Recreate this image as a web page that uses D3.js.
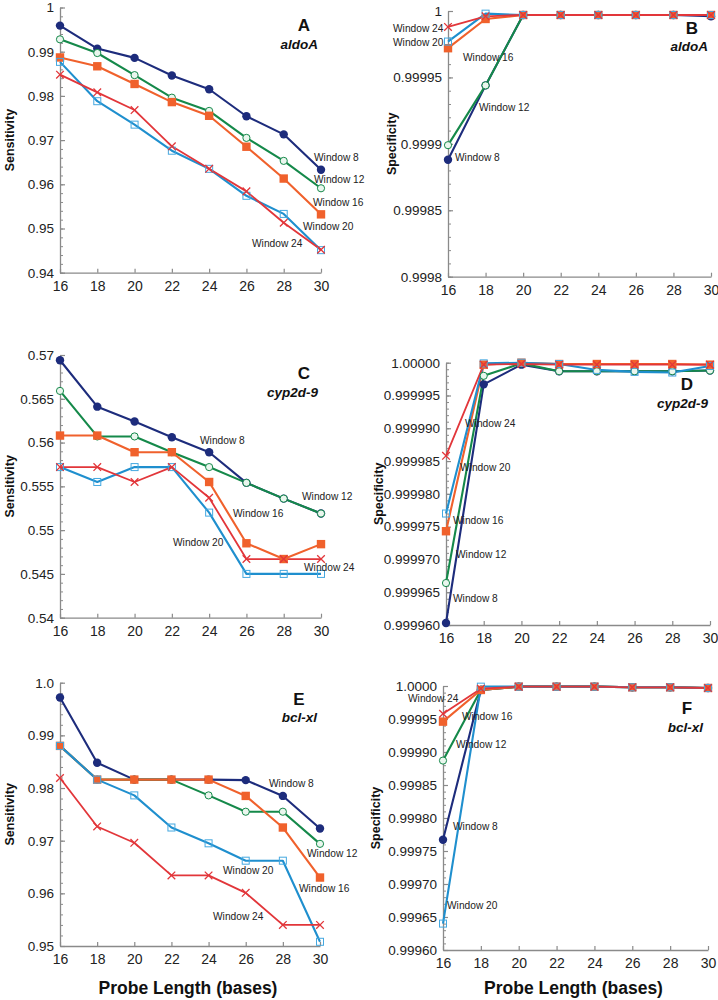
<!DOCTYPE html>
<html><head><meta charset="utf-8">
<script src="https://cdn.jsdelivr.net/npm/d3@7"></script>
<style>
body{margin:0;background:#fff;}
svg{display:block;font-family:"Liberation Sans",Arial,Helvetica,sans-serif;}
</style></head>
<body><svg id="chart" width="718" height="1000"></svg>
<script>
// ---------- data ----------
const probeLengths = [16, 18, 20, 22, 24, 26, 28, 30];
const windows = ["Window 8", "Window 12", "Window 16", "Window 20", "Window 24"];

const A_w8  = [0.9959, 0.9907, 0.9886, 0.9846, 0.9815, 0.9754, 0.9713, 0.9633];
const A_w12 = [0.9928, 0.9897, 0.9847, 0.9796, 0.9766, 0.9705, 0.9653, 0.9591];
const A_w16 = [0.9887, 0.9867, 0.9827, 0.9786, 0.9755, 0.9685, 0.9613, 0.9532];
const A_w20 = [0.9877, 0.9788, 0.9735, 0.9676, 0.9635, 0.9574, 0.9533, 0.9451];
const A_w24 = [0.9848, 0.9808, 0.9768, 0.9686, 0.9635, 0.9584, 0.9513, 0.9452];

const B_w8  = [0.999888, 0.999944, 0.999997, 0.999997, 0.999997, 0.999997, 0.999997, 0.999996];
const B_w12 = [0.999899, 0.999944, 0.999997, 0.999997, 0.999997, 0.999997, 0.999997, 0.999997];
const B_w16 = [0.999972, 0.999994, 0.999997, 0.999997, 0.999997, 0.999997, 0.999997, 0.999997];
const B_w20 = [0.999977, 0.999998, 0.999997, 0.999997, 0.999997, 0.999997, 0.999997, 0.999997];
const B_w24 = [0.999988, 0.999996, 0.999997, 0.999997, 0.999997, 0.999997, 0.999997, 0.999997];

const C_w8  = [0.5694, 0.5641, 0.5624, 0.5606, 0.5589, 0.5554, 0.5536, 0.5519];
const C_w12 = [0.5659, 0.5607, 0.5607, 0.5589, 0.5572, 0.5554, 0.5536, 0.5519];
const C_w16 = [0.5608, 0.5608, 0.5589, 0.5589, 0.5555, 0.5485, 0.5467, 0.5484];
const C_w20 = [0.5572, 0.5555, 0.5572, 0.5572, 0.5520, 0.5450, 0.5450, 0.5450];
const C_w24 = [0.5572, 0.5572, 0.5555, 0.5572, 0.5537, 0.5467, 0.5467, 0.5467];

const D_w8  = [0.9999603, 0.9999967, 0.9999997, 0.9999987, 0.9999987, 0.9999987, 0.9999987, 0.9999988];
const D_w12 = [0.9999664, 0.9999980, 0.9999999, 0.9999987, 0.9999987, 0.9999987, 0.9999987, 0.9999988];
const D_w16 = [0.9999743, 0.9999997, 1.0000000, 0.9999998, 0.9999998, 0.9999998, 0.9999998, 0.9999997];
const D_w20 = [0.9999770, 0.9999999, 1.0000000, 0.9999998, 0.9999989, 0.9999986, 0.9999985, 0.9999995];
const D_w24 = [0.9999858, 0.9999997, 0.9999998, 0.9999997, 0.9999997, 0.9999997, 0.9999997, 0.9999997];

const E_w8  = [0.9972, 0.9848, 0.9816, 0.9816, 0.9816, 0.9815, 0.9785, 0.9723];
const E_w12 = [0.9880, 0.9816, 0.9816, 0.9816, 0.9786, 0.9755, 0.9755, 0.9694];
const E_w16 = [0.9880, 0.9816, 0.9816, 0.9816, 0.9816, 0.9785, 0.9725, 0.9630];
const E_w20 = [0.9880, 0.9816, 0.9786, 0.9725, 0.9695, 0.9662, 0.9662, 0.9508];
const E_w24 = [0.9819, 0.9727, 0.9696, 0.9634, 0.9634, 0.9601, 0.9540, 0.9540];

const F_w8  = [0.999767, 0.999994, 0.999999, 0.999999, 0.999999, 0.999998, 0.999998, 0.999997];
const F_w12 = [0.999887, 0.999994, 0.999999, 0.999999, 0.999999, 0.999998, 0.999998, 0.999997];
const F_w16 = [0.999946, 0.999994, 0.999999, 0.999999, 0.999999, 0.999998, 0.999998, 0.999997];
const F_w20 = [0.999640, 0.999999, 0.999999, 0.999999, 0.999999, 0.999998, 0.999998, 0.999997];
const F_w24 = [0.999958, 0.999996, 0.999999, 0.999999, 0.999999, 0.999998, 0.999998, 0.999997];

const A_ticks = [1, 0.99, 0.98, 0.97, 0.96, 0.95, 0.94];
const A_tickLabels = ["1", "0.99", "0.98", "0.97", "0.96", "0.95", "0.94"];
const B_ticks = [1, 0.99995, 0.9999, 0.99985, 0.9998];
const B_tickLabels = ["1", "0.99995", "0.9999", "0.99985", "0.9998"];
const C_ticks = [0.57, 0.565, 0.56, 0.555, 0.55, 0.545, 0.54];
const C_tickLabels = ["0.57", "0.565", "0.56", "0.555", "0.55", "0.545", "0.54"];
const D_ticks = [1.0, 0.999995, 0.99999, 0.999985, 0.99998, 0.999975, 0.99997, 0.999965, 0.99996];
const D_tickLabels = ["1.00000", "0.999995", "0.999990", "0.999985", "0.999980", "0.999975", "0.999970", "0.999965", "0.999960"];
const E_ticks = [1.0, 0.99, 0.98, 0.97, 0.96, 0.95];
const E_tickLabels = ["1.0", "0.99", "0.98", "0.97", "0.96", "0.95"];
const F_ticks = [1.0, 0.99995, 0.9999, 0.99985, 0.9998, 0.99975, 0.9997, 0.99965, 0.9996];
const F_tickLabels = ["1.0000", "0.99995", "0.99990", "0.99985", "0.99980", "0.99975", "0.99970", "0.99965", "0.99960"];

// ---------- styles / layout ----------
const colors = ["#1d2c7c", "#15894a", "#f0612c", "#1f8fce", "#e2363a"];
const markers = ["dot", "ring", "square", "box", "cross"];
const drawOrder = [0, 1, 2, 3, 4];

const panels = [
  {letter:"A", gene:"aldoA", yTitle:"Sensitivity", series:[A_w8,A_w12,A_w16,A_w20,A_w24], ticks:A_ticks, tl:A_tickLabels,
   x0:60, x1:321, yTop:7.5, yBot:272.7, minor:0.002, titleX:9, letterPos:[304,31], genePos:[318,49],
   labels:[[314,161],[314,183],[313,206],[303,230],[252,247]], xTitle:false},
  {letter:"B", gene:"aldoA", yTitle:"Specificity", series:[B_w8,B_w12,B_w16,B_w20,B_w24], ticks:B_ticks, tl:B_tickLabels,
   x0:448, x1:711, yTop:11, yBot:276.7, minor:0.00001, titleX:391, letterPos:[692,34], genePos:[708,51],
   labels:[[455,161],[479,111],[463,61],[393,46],[393,32]], xTitle:false},
  {letter:"C", gene:"cyp2d-9", yTitle:"Sensitivity", series:[C_w8,C_w12,C_w16,C_w20,C_w24], ticks:C_ticks, tl:C_tickLabels,
   x0:60, x1:321, yTop:355, yBot:617.7, minor:0.001, titleX:9, letterPos:[304,379], genePos:[318,397],
   labels:[[200,444],[302,500],[233,517],[173,546],[304,571]], xTitle:false},
  {letter:"D", gene:"cyp2d-9", yTitle:"Specificity", series:[D_w8,D_w12,D_w16,D_w20,D_w24], ticks:D_ticks, tl:D_tickLabels,
   x0:446, x1:710, yTop:362.7, yBot:625, minor:0.000001, titleX:378, letterPos:[687,390], genePos:[708,408],
   labels:[[453,602],[456,558],[453,524],[460,471],[465,427]], xTitle:false},
  {letter:"E", gene:"bcl-xl", yTitle:"Sensitivity", series:[E_w8,E_w12,E_w16,E_w20,E_w24], ticks:E_ticks, tl:E_tickLabels,
   x0:60, x1:320, yTop:682.7, yBot:946, minor:0.002, titleX:9, letterPos:[299,705], genePos:[317,722],
   labels:[[269,787],[307,857],[299,892],[223,874],[213,920]], xTitle:true},
  {letter:"F", gene:"bcl-xl", yTitle:"Specificity", series:[F_w8,F_w12,F_w16,F_w20,F_w24], ticks:F_ticks, tl:F_tickLabels,
   x0:443, x1:708, yTop:686, yBot:950, minor:0.00001, titleX:375, letterPos:[687,714], genePos:[703,732],
   labels:[[453,830],[456,748],[462,720],[447,909],[408,702]], xTitle:true},
];

const svg = d3.select("#chart");
const axisColor = "#8a8a8a";
const fontTick = 13.5;

panels.forEach(p => {
  const ymax = d3.max(p.ticks), ymin = d3.min(p.ticks);
  const x = d3.scaleLinear().domain([16, 30]).range([p.x0, p.x1]);
  const y = d3.scaleLinear().domain([ymin, ymax]).range([p.yBot, p.yTop]);
  const g = svg.append("g");

  // minor y ticks
  const nMinor = Math.round((ymax - ymin) / p.minor);
  const minorVals = d3.range(nMinor + 1).map(i => ymin + i * p.minor);
  g.append("g").attr("transform", `translate(${p.x0},0)`)
    .call(d3.axisLeft(y).tickValues(minorVals).tickSize(-3).tickSizeOuter(0).tickFormat(""))
    .call(a => a.select(".domain").remove())
    .call(a => a.selectAll("line").attr("stroke", axisColor));

  // major y axis
  const yAxis = d3.axisLeft(y).tickValues(p.ticks).tickSize(-5).tickSizeOuter(0).tickPadding(6)
    .tickFormat((d, i) => p.tl[i]);
  g.append("g").attr("transform", `translate(${p.x0},0)`).call(yAxis)
    .call(a => a.select(".domain").attr("stroke", axisColor).attr("stroke-width", 1.3))
    .call(a => a.selectAll("line").attr("stroke", axisColor).attr("stroke-width", 1.2))
    .call(a => a.selectAll("text").attr("font-size", fontTick).attr("fill", "#222")
      .attr("font-family", '"Liberation Sans",Arial,sans-serif'));

  // x axis
  const xAxis = d3.axisBottom(x).tickValues(probeLengths).tickSize(-4).tickSizeOuter(0).tickPadding(8);
  g.append("g").attr("transform", `translate(0,${p.yBot})`).call(xAxis)
    .call(a => a.select(".domain").attr("stroke", axisColor).attr("stroke-width", 1.3))
    .call(a => a.selectAll("line").attr("stroke", axisColor).attr("stroke-width", 1.2))
    .call(a => a.selectAll("text").attr("font-size", 14).attr("fill", "#222")
      .attr("font-family", '"Liberation Sans",Arial,sans-serif'));

  // y title
  g.append("text")
    .attr("transform", `translate(${p.titleX + 4.5},${(p.yTop + p.yBot) / 2}) rotate(-90)`)
    .attr("text-anchor", "middle").attr("font-weight", "bold").attr("font-size", 12.5)
    .attr("fill", "#111").text(p.yTitle);

  // x title
  if (p.xTitle) {
    g.append("text").attr("x", (p.x0 + p.x1) / 2 - 2).attr("y", 994)
      .attr("text-anchor", "middle").attr("font-weight", "bold").attr("font-size", 17.5)
      .attr("fill", "#111").text("Probe Length (bases)");
  }

  // panel letter + gene
  g.append("text").attr("x", p.letterPos[0]).attr("y", p.letterPos[1]).attr("text-anchor", "middle")
    .attr("font-weight", "bold").attr("font-size", 17).attr("fill", "#111").text(p.letter);
  g.append("text").attr("x", p.genePos[0]).attr("y", p.genePos[1]).attr("text-anchor", "end")
    .attr("font-weight", "bold").attr("font-style", "italic").attr("font-size", 13.5)
    .attr("fill", "#111").text(p.gene);

  const line = d3.line().x((d, i) => x(probeLengths[i])).y(d => y(d));

  // lines
  drawOrder.forEach(k => {
    g.append("path").datum(p.series[k]).attr("d", line).attr("fill", "none")
      .attr("stroke", colors[k]).attr("stroke-width", k === 4 ? 1.8 : 2.1)
      .attr("stroke-linejoin", "round");
  });

  // markers
  drawOrder.forEach(k => {
    const mg = g.append("g");
    p.series[k].forEach((v, i) => {
      const cx = x(probeLengths[i]), cy = y(v);
      const m = markers[k];
      if (m === "dot") {
        mg.append("circle").attr("cx", cx).attr("cy", cy).attr("r", 4.2).attr("fill", colors[k]);
      } else if (m === "ring") {
        mg.append("circle").attr("cx", cx).attr("cy", cy).attr("r", 3.6)
          .attr("fill", "#eaf6ee").attr("stroke", colors[k]).attr("stroke-width", 1);
      } else if (m === "square") {
        mg.append("rect").attr("x", cx - 4.2).attr("y", cy - 4.2).attr("width", 8.4).attr("height", 8.4)
          .attr("fill", colors[k]);
      } else if (m === "box") {
        mg.append("rect").attr("x", cx - 3.5).attr("y", cy - 3.5).attr("width", 7).attr("height", 7)
          .attr("fill", "none").attr("stroke", "#45a8e0").attr("stroke-width", 1);
      } else {
        mg.append("path").attr("d", `M${cx-3.8},${cy-3.8}L${cx+3.8},${cy+3.8}M${cx-3.8},${cy+3.8}L${cx+3.8},${cy-3.8}`)
          .attr("stroke", colors[k]).attr("stroke-width", 1.3);
      }
    });
  });

  // window labels
  windows.forEach((w, k) => {
    g.append("text").attr("x", p.labels[k][0]).attr("y", p.labels[k][1])
      .attr("font-size", 10.2).attr("fill", "#222").text(w);
  });
});
</script></body></html>
